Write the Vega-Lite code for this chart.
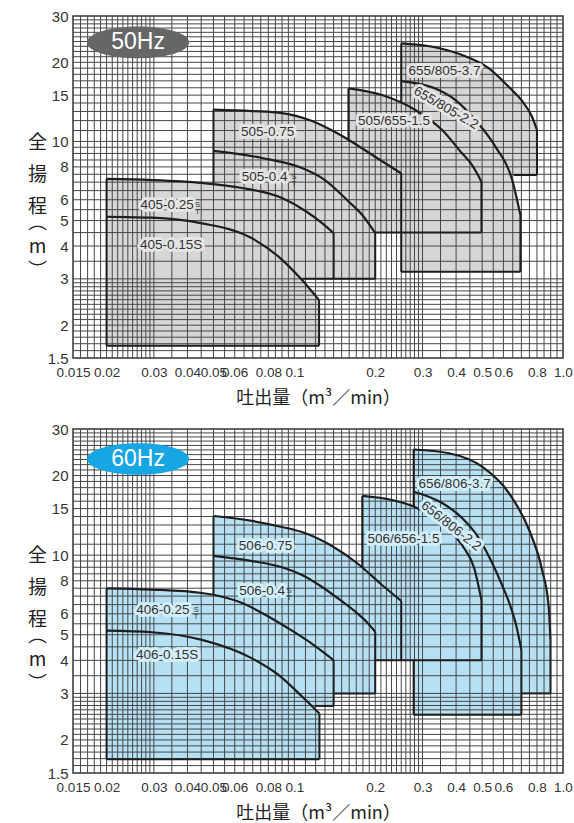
{
  "$schema": "https://vega.github.io/schema/vega-lite/v6.json",
  "padding": {"left": 26, "top": 8, "right": 0, "bottom": 0},
  "background": "white",
  "bounds": "flush",
  "spacing": 71,
  "datasets": {
    "curves": [
      {"p":"50","r":"405-0.15","b":1.67,"x":0.02,"y":5.17},{"p":"50","r":"405-0.15","b":1.67,"x":0.0239,"y":5.15},{"p":"50","r":"405-0.15","b":1.67,"x":0.0295,"y":5.13},{"p":"50","r":"405-0.15","b":1.67,"x":0.0453,"y":4.88},{"p":"50","r":"405-0.15","b":1.67,"x":0.0696,"y":4.28},{"p":"50","r":"405-0.15","b":1.67,"x":0.0875,"y":3.64},{"p":"50","r":"405-0.15","b":1.67,"x":0.1068,"y":2.97},{"p":"50","r":"405-0.15","b":1.67,"x":0.1236,"y":2.49},
      {"p":"50","r":"405-0.25","b":3.0,"x":0.02,"y":7.2},{"p":"50","r":"405-0.25","b":3.0,"x":0.0295,"y":7.13},{"p":"50","r":"405-0.25","b":3.0,"x":0.0453,"y":6.95},{"p":"50","r":"405-0.25","b":3.0,"x":0.0639,"y":6.65},{"p":"50","r":"405-0.25","b":3.0,"x":0.09,"y":6.09},{"p":"50","r":"405-0.25","b":3.0,"x":0.1115,"y":5.39},{"p":"50","r":"405-0.25","b":3.0,"x":0.1268,"y":4.89},{"p":"50","r":"405-0.25","b":3.0,"x":0.14,"y":4.48},
      {"p":"50","r":"505-0.4","b":3.0,"x":0.05,"y":9.2},{"p":"50","r":"505-0.4","b":3.0,"x":0.0758,"y":8.65},{"p":"50","r":"505-0.4","b":3.0,"x":0.1068,"y":7.92},{"p":"50","r":"505-0.4","b":3.0,"x":0.13,"y":7.13},{"p":"50","r":"505-0.4","b":3.0,"x":0.157,"y":5.99},{"p":"50","r":"505-0.4","b":3.0,"x":0.179,"y":5.25},{"p":"50","r":"505-0.4","b":3.0,"x":0.2,"y":4.48},
      {"p":"50","r":"505-0.75","b":4.5,"x":0.05,"y":13.22},{"p":"50","r":"505-0.75","b":4.5,"x":0.0696,"y":13.05},{"p":"50","r":"505-0.75","b":4.5,"x":0.09,"y":12.82},{"p":"50","r":"505-0.75","b":4.5,"x":0.1164,"y":11.96},{"p":"50","r":"505-0.75","b":4.5,"x":0.144,"y":10.76},{"p":"50","r":"505-0.75","b":4.5,"x":0.171,"y":9.69},{"p":"50","r":"505-0.75","b":4.5,"x":0.203,"y":8.65},{"p":"50","r":"505-0.75","b":4.5,"x":0.25,"y":7.56},
      {"p":"50","r":"505/655-1.5","b":4.5,"x":0.159,"y":15.92},{"p":"50","r":"505/655-1.5","b":4.5,"x":0.212,"y":15.01},{"p":"50","r":"505/655-1.5","b":4.5,"x":0.282,"y":13.17},{"p":"50","r":"505/655-1.5","b":4.5,"x":0.355,"y":11.05},{"p":"50","r":"505/655-1.5","b":4.5,"x":0.421,"y":9.01},{"p":"50","r":"505/655-1.5","b":4.5,"x":0.459,"y":8.13},{"p":"50","r":"505/655-1.5","b":4.5,"x":0.497,"y":7.03},
      {"p":"50","r":"655/805-2.2","b":3.19,"x":0.25,"y":16.97},{"p":"50","r":"655/805-2.2","b":3.19,"x":0.326,"y":16.06},{"p":"50","r":"655/805-2.2","b":3.19,"x":0.398,"y":14.37},{"p":"50","r":"655/805-2.2","b":3.19,"x":0.472,"y":12.06},{"p":"50","r":"655/805-2.2","b":3.19,"x":0.56,"y":9.55},{"p":"50","r":"655/805-2.2","b":3.19,"x":0.647,"y":7.13},{"p":"50","r":"655/805-2.2","b":3.19,"x":0.675,"y":5.99},{"p":"50","r":"655/805-2.2","b":3.19,"x":0.694,"y":5.25},
      {"p":"50","r":"655/805-3.7","b":7.45,"x":0.25,"y":23.6},{"p":"50","r":"655/805-3.7","b":7.45,"x":0.326,"y":22.92},{"p":"50","r":"655/805-3.7","b":7.45,"x":0.421,"y":21.32},{"p":"50","r":"655/805-3.7","b":7.45,"x":0.53,"y":18.97},{"p":"50","r":"655/805-3.7","b":7.45,"x":0.628,"y":16.14},{"p":"50","r":"655/805-3.7","b":7.45,"x":0.715,"y":13.96},{"p":"50","r":"655/805-3.7","b":7.45,"x":0.767,"y":12.41},{"p":"50","r":"655/805-3.7","b":7.45,"x":0.8,"y":11.05},
      {"p":"60","r":"406-0.15","b":1.69,"x":0.02,"y":5.18},{"p":"60","r":"406-0.15","b":1.69,"x":0.0295,"y":5.11},{"p":"60","r":"406-0.15","b":1.69,"x":0.0453,"y":4.78},{"p":"60","r":"406-0.15","b":1.69,"x":0.0696,"y":4.07},{"p":"60","r":"406-0.15","b":1.69,"x":0.0875,"y":3.52},{"p":"60","r":"406-0.15","b":1.69,"x":0.1068,"y":2.92},{"p":"60","r":"406-0.15","b":1.69,"x":0.124,"y":2.52},
      {"p":"60","r":"406-0.25","b":2.69,"x":0.02,"y":7.49},{"p":"60","r":"406-0.25","b":2.69,"x":0.0295,"y":7.41},{"p":"60","r":"406-0.25","b":2.69,"x":0.0453,"y":7.19},{"p":"60","r":"406-0.25","b":2.69,"x":0.0639,"y":6.59},{"p":"60","r":"406-0.25","b":2.69,"x":0.0803,"y":5.85},{"p":"60","r":"406-0.25","b":2.69,"x":0.098,"y":5.18},{"p":"60","r":"406-0.25","b":2.69,"x":0.1164,"y":4.62},{"p":"60","r":"406-0.25","b":2.69,"x":0.14,"y":4.01},
      {"p":"60","r":"506-0.4","b":3.0,"x":0.05,"y":9.93},{"p":"60","r":"506-0.4","b":3.0,"x":0.0696,"y":9.5},{"p":"60","r":"506-0.4","b":3.0,"x":0.09,"y":9.0},{"p":"60","r":"506-0.4","b":3.0,"x":0.1068,"y":8.41},{"p":"60","r":"506-0.4","b":3.0,"x":0.1268,"y":7.58},{"p":"60","r":"506-0.4","b":3.0,"x":0.148,"y":6.77},{"p":"60","r":"506-0.4","b":3.0,"x":0.171,"y":6.04},{"p":"60","r":"506-0.4","b":3.0,"x":0.186,"y":5.59},{"p":"60","r":"506-0.4","b":3.0,"x":0.2,"y":5.13},
      {"p":"60","r":"506-0.75","b":4.0,"x":0.05,"y":14.06},{"p":"60","r":"506-0.75","b":4.0,"x":0.0696,"y":13.47},{"p":"60","r":"506-0.75","b":4.0,"x":0.09,"y":12.78},{"p":"60","r":"506-0.75","b":4.0,"x":0.1068,"y":12.23},{"p":"60","r":"506-0.75","b":4.0,"x":0.138,"y":10.83},{"p":"60","r":"506-0.75","b":4.0,"x":0.171,"y":9.34},{"p":"60","r":"506-0.75","b":4.0,"x":0.212,"y":7.71},{"p":"60","r":"506-0.75","b":4.0,"x":0.25,"y":6.71},
      {"p":"60","r":"506/656-1.5","b":4.0,"x":0.179,"y":16.75},{"p":"60","r":"506/656-1.5","b":4.0,"x":0.231,"y":16.17},{"p":"60","r":"506/656-1.5","b":4.0,"x":0.281,"y":15.21},{"p":"60","r":"506/656-1.5","b":4.0,"x":0.34,"y":13.58},{"p":"60","r":"506/656-1.5","b":4.0,"x":0.386,"y":12.13},{"p":"60","r":"506/656-1.5","b":4.0,"x":0.428,"y":10.64},{"p":"60","r":"506/656-1.5","b":4.0,"x":0.467,"y":8.94},{"p":"60","r":"506/656-1.5","b":4.0,"x":0.497,"y":6.77},
      {"p":"60","r":"656/806-2.2","b":2.49,"x":0.278,"y":17.38},{"p":"60","r":"656/806-2.2","b":2.49,"x":0.355,"y":15.75},{"p":"60","r":"656/806-2.2","b":2.49,"x":0.421,"y":13.82},{"p":"60","r":"656/806-2.2","b":2.49,"x":0.483,"y":11.71},{"p":"60","r":"656/806-2.2","b":2.49,"x":0.545,"y":9.34},{"p":"60","r":"656/806-2.2","b":2.49,"x":0.593,"y":7.71},{"p":"60","r":"656/806-2.2","b":2.49,"x":0.635,"y":6.48},{"p":"60","r":"656/806-2.2","b":2.49,"x":0.669,"y":5.44},{"p":"60","r":"656/806-2.2","b":2.49,"x":0.7,"y":4.38},
      {"p":"60","r":"656/806-3.7","b":3.0,"x":0.278,"y":25.1},{"p":"60","r":"656/806-3.7","b":3.0,"x":0.377,"y":24.28},{"p":"60","r":"656/806-3.7","b":3.0,"x":0.5,"y":21.6},{"p":"60","r":"656/806-3.7","b":3.0,"x":0.63,"y":17.14},{"p":"60","r":"656/806-3.7","b":3.0,"x":0.748,"y":12.45},{"p":"60","r":"656/806-3.7","b":3.0,"x":0.836,"y":8.79},{"p":"60","r":"656/806-3.7","b":3.0,"x":0.885,"y":6.37},{"p":"60","r":"656/806-3.7","b":3.0,"x":0.898,"y":4.78}
    ],
    "edges": [
      {"p":"50","x":0.02,"y":1.67,"x2":0.02,"y2":7.2},
      {"p":"50","x":0.1236,"y":2.49,"x2":0.1236,"y2":1.67},
      {"p":"50","x":0.02,"y":1.67,"x2":0.1236,"y2":1.67},
      {"p":"50","x":0.14,"y":4.48,"x2":0.14,"y2":3.0},
      {"p":"50","x":0.107,"y":3.0,"x2":0.2,"y2":3.0},
      {"p":"50","x":0.05,"y":6.95,"x2":0.05,"y2":13.22},
      {"p":"50","x":0.2,"y":4.48,"x2":0.2,"y2":3.0},
      {"p":"50","x":0.25,"y":7.56,"x2":0.25,"y2":3.19},
      {"p":"50","x":0.25,"y":14.1,"x2":0.25,"y2":23.6},
      {"p":"50","x":0.2,"y":4.5,"x2":0.497,"y2":4.5},
      {"p":"50","x":0.159,"y":10.1,"x2":0.159,"y2":15.92},
      {"p":"50","x":0.497,"y":7.03,"x2":0.497,"y2":4.5},
      {"p":"50","x":0.694,"y":5.25,"x2":0.694,"y2":3.19},
      {"p":"50","x":0.25,"y":3.19,"x2":0.694,"y2":3.19},
      {"p":"50","x":0.8,"y":11.05,"x2":0.8,"y2":7.45},
      {"p":"50","x":0.655,"y":7.45,"x2":0.8,"y2":7.45},
      {"p":"60","x":0.02,"y":1.69,"x2":0.02,"y2":7.49},
      {"p":"60","x":0.124,"y":2.52,"x2":0.124,"y2":1.69},
      {"p":"60","x":0.02,"y":1.69,"x2":0.124,"y2":1.69},
      {"p":"60","x":0.14,"y":4.01,"x2":0.14,"y2":2.69},
      {"p":"60","x":0.119,"y":2.69,"x2":0.14,"y2":2.69},
      {"p":"60","x":0.05,"y":7.1,"x2":0.05,"y2":14.06},
      {"p":"60","x":0.2,"y":5.13,"x2":0.2,"y2":3.0},
      {"p":"60","x":0.14,"y":3.0,"x2":0.2,"y2":3.0},
      {"p":"60","x":0.25,"y":6.71,"x2":0.25,"y2":4.0},
      {"p":"60","x":0.2,"y":4.0,"x2":0.497,"y2":4.0},
      {"p":"60","x":0.179,"y":9.0,"x2":0.179,"y2":16.75},
      {"p":"60","x":0.497,"y":6.77,"x2":0.497,"y2":4.0},
      {"p":"60","x":0.278,"y":15.25,"x2":0.278,"y2":25.1},
      {"p":"60","x":0.278,"y":4.0,"x2":0.278,"y2":2.49},
      {"p":"60","x":0.278,"y":2.49,"x2":0.7,"y2":2.49},
      {"p":"60","x":0.7,"y":4.38,"x2":0.7,"y2":2.49},
      {"p":"60","x":0.898,"y":4.78,"x2":0.898,"y2":3.0},
      {"p":"60","x":0.7,"y":3.0,"x2":0.898,"y2":3.0}
    ],
    "labels": [
      {"p":"50","t":"655/805-3.7","x":0.362,"y":18.5,"a":0},
      {"p":"50","t":"655/805-2.2","x":0.367,"y":13.4,"a":30},
      {"p":"50","t":"505/655-1.5","x":0.235,"y":12.0,"a":0},
      {"p":"50","t":"505-0.75","x":0.0795,"y":10.85,"a":0},
      {"p":"50","t":"505-0.4","x":0.0775,"y":7.32,"a":0},
      {"p":"50","t":"405-0.25","x":0.0336,"y":5.73,"a":0},
      {"p":"50","t":"405-0.15S","x":0.0348,"y":4.04,"a":0},
      {"p":"60","t":"656/806-3.7","x":0.395,"y":18.6,"a":0},
      {"p":"60","t":"656/806-2.2","x":0.383,"y":12.9,"a":38},
      {"p":"60","t":"506/656-1.5","x":0.255,"y":11.5,"a":0},
      {"p":"60","t":"506-0.75","x":0.0781,"y":10.83,"a":0},
      {"p":"60","t":"506-0.4","x":0.0758,"y":7.32,"a":0},
      {"p":"60","t":"406-0.25","x":0.0324,"y":6.2,"a":0},
      {"p":"60","t":"406-0.15S","x":0.0336,"y":4.19,"a":0}
    ],
    "sups": [
      {"p":"50","t":"S\nT","x":0.0997,"y":7.32},
      {"p":"50","t":"S\nT","x":0.0436,"y":5.73},
      {"p":"60","t":"S\nT","x":0.0955,"y":7.32},
      {"p":"60","t":"S\nT","x":0.0431,"y":6.2}
    ],
    "badges": [
      {"p":"50","t":"50Hz","x":0.0262,"y":23.8},
      {"p":"60","t":"60Hz","x":0.0262,"y":23.1}
    ],
    "gx": [{"v":0.016},{"v":0.017},{"v":0.018},{"v":0.019},{"v":0.02},{"v":0.021},{"v":0.022},{"v":0.023},{"v":0.024},{"v":0.025},{"v":0.026},{"v":0.027},{"v":0.028},{"v":0.029},{"v":0.03},{"v":0.035},{"v":0.04},{"v":0.045},{"v":0.05},{"v":0.055},{"v":0.06},{"v":0.065},{"v":0.07},{"v":0.075},{"v":0.08},{"v":0.085},{"v":0.09},{"v":0.095},{"v":0.1},{"v":0.11},{"v":0.12},{"v":0.13},{"v":0.14},{"v":0.15},{"v":0.16},{"v":0.17},{"v":0.18},{"v":0.19},{"v":0.2},{"v":0.21},{"v":0.22},{"v":0.23},{"v":0.24},{"v":0.25},{"v":0.26},{"v":0.27},{"v":0.28},{"v":0.29},{"v":0.3},{"v":0.35},{"v":0.4},{"v":0.45},{"v":0.5},{"v":0.55},{"v":0.6},{"v":0.65},{"v":0.7},{"v":0.75},{"v":0.8},{"v":0.85},{"v":0.9},{"v":0.95}],
    "gy": [{"v":1.6},{"v":1.7},{"v":1.8},{"v":1.9},{"v":2},{"v":2.1},{"v":2.2},{"v":2.3},{"v":2.4},{"v":2.5},{"v":2.6},{"v":2.7},{"v":2.8},{"v":2.9},{"v":3},{"v":3.5},{"v":4},{"v":4.5},{"v":5},{"v":5.5},{"v":6},{"v":6.5},{"v":7},{"v":7.5},{"v":8},{"v":8.5},{"v":9},{"v":9.5},{"v":10},{"v":11},{"v":12},{"v":13},{"v":14},{"v":15},{"v":16},{"v":17},{"v":18},{"v":19},{"v":20},{"v":21},{"v":22},{"v":23},{"v":24},{"v":25},{"v":26},{"v":27},{"v":28},{"v":29}]
  },
  "config": {
    "view": {"stroke": "#333333", "strokeWidth": 1.5},
    "axis": {"grid": false, "ticks": false, "domain": false, "labelColor": "#333333", "titleColor": "#222222", "titleFont": "Noto Sans CJK JP", "titleFontWeight": "normal"},
    "axisX": {"labelFont": "Liberation Sans Narrow, Liberation Sans", "labelFontSize": 13.5, "labelPadding": 7, "labelOverlap": false, "labelFlush": false, "labelBound": false, "titleFontSize": 18, "titlePadding": 11},
    "axisY": {"labelFont": "Liberation Sans", "labelFontSize": 15, "labelPadding": 5, "labelOverlap": false, "labelFlush": false, "titleAngle": 0, "titleX": -36, "titleY": 117.5, "titleAlign": "center", "titleBaseline": "top", "titleLineHeight": 8, "titleFontSize": 19}
  },
  "vconcat": [
    {
      "width": 490, "height": 342,
      "layer": [
        {"data": {"name": "curves"}, "transform": [{"filter": "datum.p == '50'"}],
         "mark": {"type": "area", "interpolate": "monotone", "fill": "#d6d6d6", "opacity": 1},
         "encoding": {
           "x": {"field": "x", "type": "quantitative", "scale": {"type": "log", "domain": [0.015, 1], "nice": false, "zero": false}, "axis": {"title": "吐出量（m³／min）", "values": [0.015,0.02,0.03,0.04,0.05,0.06,0.08,0.1,0.2,0.3,0.4,0.5,0.6,0.8,1], "labelExpr": "datum.value == 1 ? '1.0' : format(datum.value, '~g')"}},
           "y": {"field": "y", "type": "quantitative", "scale": {"type": "log", "domain": [1.5, 30], "nice": false, "zero": false}, "axis": {"values": [1.5,2,3,4,5,6,8,10,15,20,30], "labelExpr": "format(datum.value, '~g')", "title": ["全","\u200b","\u200b","\u200b","揚","\u200b","\u200b","\u200b","程","\u200b","︵","\u200b","\u200b","m","\u200b","\u200b","︶"]}},
           "y2": {"field": "b"},
           "detail": {"field": "r"}
         }},
        {"data": {"name": "gx"}, "mark": {"type": "rule", "stroke": "#474747", "strokeWidth": 1},
         "encoding": {"x": {"field": "v", "type": "quantitative", "scale": {"type": "log", "domain": [0.015, 1], "nice": false, "zero": false}}}},
        {"data": {"name": "gy"}, "mark": {"type": "rule", "stroke": "#474747", "strokeWidth": 1},
         "encoding": {"y": {"field": "v", "type": "quantitative", "scale": {"type": "log", "domain": [1.5, 30], "nice": false, "zero": false}}}},
        {"data": {"name": "curves"}, "transform": [{"filter": "datum.p == '50'"}],
         "mark": {"type": "line", "interpolate": "monotone", "stroke": "#1e1e1e", "strokeWidth": 2.2},
         "encoding": {
           "x": {"field": "x", "type": "quantitative", "scale": {"type": "log", "domain": [0.015, 1], "nice": false, "zero": false}},
           "y": {"field": "y", "type": "quantitative", "scale": {"type": "log", "domain": [1.5, 30], "nice": false, "zero": false}},
           "detail": {"field": "r"}
         }},
        {"data": {"name": "edges"}, "transform": [{"filter": "datum.p == '50'"}],
         "mark": {"type": "rule", "stroke": "#1e1e1e", "strokeWidth": 2},
         "encoding": {
           "x": {"field": "x", "type": "quantitative", "scale": {"type": "log", "domain": [0.015, 1], "nice": false, "zero": false}},
           "y": {"field": "y", "type": "quantitative", "scale": {"type": "log", "domain": [1.5, 30], "nice": false, "zero": false}},
           "x2": {"field": "x2"}, "y2": {"field": "y2"}
         }},
        {"data": {"name": "labels"}, "transform": [{"filter": "datum.p == '50'"}],
         "mark": {"type": "text", "font": "Liberation Sans", "fontSize": 13.5, "align": "center", "baseline": "middle", "fill": "#e4e4e4", "stroke": "#e4e4e4", "strokeWidth": 6, "strokeJoin": "round"},
         "encoding": {
           "x": {"field": "x", "type": "quantitative", "scale": {"type": "log", "domain": [0.015, 1], "nice": false, "zero": false}},
           "y": {"field": "y", "type": "quantitative", "scale": {"type": "log", "domain": [1.5, 30], "nice": false, "zero": false}},
           "text": {"field": "t"}, "angle": {"field": "a", "type": "quantitative", "scale": null}
         }},
        {"data": {"name": "labels"}, "transform": [{"filter": "datum.p == '50'"}],
         "mark": {"type": "text", "font": "Liberation Sans", "fontSize": 13.5, "align": "center", "baseline": "middle", "fill": "#333333"},
         "encoding": {
           "x": {"field": "x", "type": "quantitative", "scale": {"type": "log", "domain": [0.015, 1], "nice": false, "zero": false}},
           "y": {"field": "y", "type": "quantitative", "scale": {"type": "log", "domain": [1.5, 30], "nice": false, "zero": false}},
           "text": {"field": "t"}, "angle": {"field": "a", "type": "quantitative", "scale": null}
         }},
        {"data": {"name": "sups"}, "transform": [{"filter": "datum.p == '50'"}],
         "mark": {"type": "text", "font": "Liberation Sans", "fontSize": 7.5, "lineHeight": 7, "lineBreak": "\n", "align": "center", "baseline": "middle", "fill": "#333333"},
         "encoding": {
           "x": {"field": "x", "type": "quantitative", "scale": {"type": "log", "domain": [0.015, 1], "nice": false, "zero": false}},
           "y": {"field": "y", "type": "quantitative", "scale": {"type": "log", "domain": [1.5, 30], "nice": false, "zero": false}},
           "text": {"field": "t"}
         }},
        {"data": {"name": "badges"}, "transform": [{"filter": "datum.p == '50'"}],
         "mark": {"type": "point", "shape": "M -1 0 A 1 0.31 0 1 1 1 0 A 1 0.31 0 1 1 -1 0 Z", "size": 10404, "filled": true, "fill": "#666666", "opacity": 1, "strokeWidth": 0},
         "encoding": {
           "x": {"field": "x", "type": "quantitative", "scale": {"type": "log", "domain": [0.015, 1], "nice": false, "zero": false}},
           "y": {"field": "y", "type": "quantitative", "scale": {"type": "log", "domain": [1.5, 30], "nice": false, "zero": false}}
         }},
        {"data": {"name": "badges"}, "transform": [{"filter": "datum.p == '50'"}],
         "mark": {"type": "text", "font": "Liberation Sans", "fontSize": 23, "align": "center", "baseline": "middle", "fill": "white"},
         "encoding": {
           "x": {"field": "x", "type": "quantitative", "scale": {"type": "log", "domain": [0.015, 1], "nice": false, "zero": false}},
           "y": {"field": "y", "type": "quantitative", "scale": {"type": "log", "domain": [1.5, 30], "nice": false, "zero": false}},
           "text": {"field": "t"}
         }}
      ]
    },
    {
      "width": 490, "height": 344,
      "layer": [
        {"data": {"name": "curves"}, "transform": [{"filter": "datum.p == '60'"}],
         "mark": {"type": "area", "interpolate": "monotone", "fill": "#b6e1f5", "opacity": 1},
         "encoding": {
           "x": {"field": "x", "type": "quantitative", "scale": {"type": "log", "domain": [0.015, 1], "nice": false, "zero": false}, "axis": {"title": "吐出量（m³／min）", "values": [0.015,0.02,0.03,0.04,0.05,0.06,0.08,0.1,0.2,0.3,0.4,0.5,0.6,0.8,1], "labelExpr": "datum.value == 1 ? '1.0' : format(datum.value, '~g')"}},
           "y": {"field": "y", "type": "quantitative", "scale": {"type": "log", "domain": [1.5, 30], "nice": false, "zero": false}, "axis": {"values": [1.5,2,3,4,5,6,8,10,15,20,30], "labelExpr": "format(datum.value, '~g')", "title": ["全","\u200b","\u200b","\u200b","揚","\u200b","\u200b","\u200b","程","\u200b","︵","\u200b","\u200b","m","\u200b","\u200b","︶"]}},
           "y2": {"field": "b"},
           "detail": {"field": "r"}
         }},
        {"data": {"name": "gx"}, "mark": {"type": "rule", "stroke": "#474747", "strokeWidth": 1},
         "encoding": {"x": {"field": "v", "type": "quantitative", "scale": {"type": "log", "domain": [0.015, 1], "nice": false, "zero": false}}}},
        {"data": {"name": "gy"}, "mark": {"type": "rule", "stroke": "#474747", "strokeWidth": 1},
         "encoding": {"y": {"field": "v", "type": "quantitative", "scale": {"type": "log", "domain": [1.5, 30], "nice": false, "zero": false}}}},
        {"data": {"name": "curves"}, "transform": [{"filter": "datum.p == '60'"}],
         "mark": {"type": "line", "interpolate": "monotone", "stroke": "#1e1e1e", "strokeWidth": 2.2},
         "encoding": {
           "x": {"field": "x", "type": "quantitative", "scale": {"type": "log", "domain": [0.015, 1], "nice": false, "zero": false}},
           "y": {"field": "y", "type": "quantitative", "scale": {"type": "log", "domain": [1.5, 30], "nice": false, "zero": false}},
           "detail": {"field": "r"}
         }},
        {"data": {"name": "edges"}, "transform": [{"filter": "datum.p == '60'"}],
         "mark": {"type": "rule", "stroke": "#1e1e1e", "strokeWidth": 2},
         "encoding": {
           "x": {"field": "x", "type": "quantitative", "scale": {"type": "log", "domain": [0.015, 1], "nice": false, "zero": false}},
           "y": {"field": "y", "type": "quantitative", "scale": {"type": "log", "domain": [1.5, 30], "nice": false, "zero": false}},
           "x2": {"field": "x2"}, "y2": {"field": "y2"}
         }},
        {"data": {"name": "labels"}, "transform": [{"filter": "datum.p == '60'"}],
         "mark": {"type": "text", "font": "Liberation Sans", "fontSize": 13.5, "align": "center", "baseline": "middle", "fill": "#d3eef9", "stroke": "#d3eef9", "strokeWidth": 6, "strokeJoin": "round"},
         "encoding": {
           "x": {"field": "x", "type": "quantitative", "scale": {"type": "log", "domain": [0.015, 1], "nice": false, "zero": false}},
           "y": {"field": "y", "type": "quantitative", "scale": {"type": "log", "domain": [1.5, 30], "nice": false, "zero": false}},
           "text": {"field": "t"}, "angle": {"field": "a", "type": "quantitative", "scale": null}
         }},
        {"data": {"name": "labels"}, "transform": [{"filter": "datum.p == '60'"}],
         "mark": {"type": "text", "font": "Liberation Sans", "fontSize": 13.5, "align": "center", "baseline": "middle", "fill": "#333333"},
         "encoding": {
           "x": {"field": "x", "type": "quantitative", "scale": {"type": "log", "domain": [0.015, 1], "nice": false, "zero": false}},
           "y": {"field": "y", "type": "quantitative", "scale": {"type": "log", "domain": [1.5, 30], "nice": false, "zero": false}},
           "text": {"field": "t"}, "angle": {"field": "a", "type": "quantitative", "scale": null}
         }},
        {"data": {"name": "sups"}, "transform": [{"filter": "datum.p == '60'"}],
         "mark": {"type": "text", "font": "Liberation Sans", "fontSize": 7.5, "lineHeight": 7, "lineBreak": "\n", "align": "center", "baseline": "middle", "fill": "#333333"},
         "encoding": {
           "x": {"field": "x", "type": "quantitative", "scale": {"type": "log", "domain": [0.015, 1], "nice": false, "zero": false}},
           "y": {"field": "y", "type": "quantitative", "scale": {"type": "log", "domain": [1.5, 30], "nice": false, "zero": false}},
           "text": {"field": "t"}
         }},
        {"data": {"name": "badges"}, "transform": [{"filter": "datum.p == '60'"}],
         "mark": {"type": "point", "shape": "M -1 0 A 1 0.31 0 1 1 1 0 A 1 0.31 0 1 1 -1 0 Z", "size": 10404, "filled": true, "fill": "#15a6e3", "opacity": 1, "strokeWidth": 0},
         "encoding": {
           "x": {"field": "x", "type": "quantitative", "scale": {"type": "log", "domain": [0.015, 1], "nice": false, "zero": false}},
           "y": {"field": "y", "type": "quantitative", "scale": {"type": "log", "domain": [1.5, 30], "nice": false, "zero": false}}
         }},
        {"data": {"name": "badges"}, "transform": [{"filter": "datum.p == '60'"}],
         "mark": {"type": "text", "font": "Liberation Sans", "fontSize": 23, "align": "center", "baseline": "middle", "fill": "white"},
         "encoding": {
           "x": {"field": "x", "type": "quantitative", "scale": {"type": "log", "domain": [0.015, 1], "nice": false, "zero": false}},
           "y": {"field": "y", "type": "quantitative", "scale": {"type": "log", "domain": [1.5, 30], "nice": false, "zero": false}},
           "text": {"field": "t"}
         }}
      ]
    }
  ]
}
